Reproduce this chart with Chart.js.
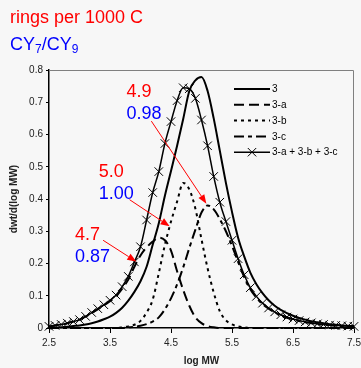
<!DOCTYPE html>
<html>
<head>
<meta charset="utf-8">
<script src="https://cdn.jsdelivr.net/npm/chart.js@4.4.0/dist/chart.umd.min.js"></script>
<style>
  html, body { margin: 0; padding: 0; background: #f7f7f7; }
  #wrap { position: relative; width: 361px; height: 368px; }
  .head { position: absolute; left: 10px; font-family: Arial, "Liberation Sans", sans-serif; font-size: 18px; line-height: 18px; white-space: nowrap; }
  #rings { top: 7.5px; color: #ff0000; }
  #cy { top: 35px; color: #0000ff; }
  #cy sub { font-size: 12px; vertical-align: -3px; line-height: 0; }
  canvas { position: absolute; left: 0; top: 0; }
</style>
</head>
<body>
<div id="wrap">
  <canvas id="gpc" width="361" height="368"></canvas>
  <div class="head" id="rings">rings per 1000 C</div>
  <div class="head" id="cy">CY<sub>7</sub>/CY<sub>9</sub></div>
</div>
<script>
// log MW grid shared by every curve
const logMW = [2.5, 2.6, 2.7, 2.8, 2.9, 3.0, 3.1, 3.2, 3.3, 3.4, 3.5, 3.6, 3.7, 3.8, 3.9,
  4.0, 4.1, 4.2, 4.3, 4.4, 4.5, 4.6, 4.7, 4.8, 4.9, 5.0, 5.1, 5.2, 5.3, 5.4, 5.5, 5.6, 5.7,
  5.8, 5.9, 6.0, 6.1, 6.2, 6.3, 6.4, 6.5, 6.6, 6.7, 6.8, 6.9, 7.0, 7.1, 7.2, 7.3, 7.4, 7.5];
const xTicks = [2.5, 3.5, 4.5, 5.5, 6.5, 7.5];

// measured distribution of sample 3
const s3 = [0.000, 0.001, 0.002, 0.004, 0.006, 0.008, 0.011, 0.015, 0.020, 0.027, 0.035, 0.047,
  0.063, 0.085, 0.112, 0.145, 0.190, 0.258, 0.325, 0.410, 0.487, 0.565, 0.648, 0.735, 0.768,
  0.778, 0.735, 0.650, 0.550, 0.450, 0.360, 0.280, 0.222, 0.172, 0.136, 0.108, 0.086, 0.069,
  0.056, 0.046, 0.038, 0.031, 0.026, 0.021, 0.018, 0.015, 0.012, 0.010, 0.008, 0.007, 0.006];
// fractions
const s3a = [0.005, 0.008, 0.011, 0.015, 0.020, 0.026, 0.035, 0.047, 0.058, 0.070, 0.083, 0.098,
  0.122, 0.150, 0.190, 0.225, 0.250, 0.268, 0.280, 0.272, 0.240, 0.176, 0.118, 0.069, 0.033,
  0.015, 0.006, 0.002, 0, 0, 0, 0, 0, 0, 0, 0, 0, 0, 0, 0, 0, 0, 0, 0, 0, 0, 0, 0, 0, 0, 0];
const s3b = [0, 0, 0, 0, 0, 0, 0, 0, 0, 0, 0, 0, 0.002, 0.005, 0.010, 0.022, 0.048, 0.088, 0.170,
  0.258, 0.330, 0.392, 0.450, 0.430, 0.370, 0.275, 0.185, 0.110, 0.052, 0.024, 0.011, 0.005,
  0.002, 0, 0, 0, 0, 0, 0, 0, 0, 0, 0, 0, 0, 0, 0, 0, 0, 0, 0];
const s3c = [0, 0, 0, 0, 0, 0, 0, 0, 0, 0, 0, 0, 0, 0.002, 0.004, 0.007, 0.012, 0.020, 0.033,
  0.058, 0.092, 0.135, 0.188, 0.248, 0.305, 0.358, 0.380, 0.368, 0.338, 0.300, 0.255, 0.205,
  0.158, 0.120, 0.094, 0.074, 0.060, 0.048, 0.039, 0.032, 0.027, 0.022, 0.018, 0.015, 0.012,
  0.010, 0.009, 0.007, 0.006, 0.005, 0.004];
// recombined fractions
const sSum = [0.005, 0.008, 0.011, 0.015, 0.020, 0.026, 0.036, 0.048, 0.060, 0.072, 0.086, 0.102,
  0.128, 0.160, 0.205, 0.252, 0.335, 0.420, 0.485, 0.572, 0.640, 0.705, 0.745, 0.742, 0.712,
  0.645, 0.565, 0.470, 0.390, 0.330, 0.272, 0.215, 0.165, 0.125, 0.098, 0.077, 0.062, 0.050,
  0.041, 0.034, 0.028, 0.023, 0.019, 0.016, 0.013, 0.011, 0.009, 0.008, 0.007, 0.006, 0.005];

const ringLabels = ['4.7', '5.0', '4.9'];
const cyLabels = ['0.87', '1.00', '0.98'];

const FONT = 'Arial, "Liberation Sans", sans-serif';
Chart.defaults.font.family = FONT;

function curve(label, values, extra) {
  return Object.assign({
    label: label,
    data: logMW.map((x, i) => ({ x: x, y: values[i] })),
    borderColor: '#000',
    backgroundColor: '#000',
    borderWidth: 2,
    pointRadius: 0,
    cubicInterpolationMode: 'monotone',
    fill: false,
    clip: false
  }, extra || {});
}

// gray top/right edge of the plot frame
const frame = {
  id: 'frame',
  beforeDatasetsDraw(chart) {
    const { ctx, chartArea: a } = chart;
    ctx.save();
    ctx.strokeStyle = '#808080';
    ctx.lineWidth = 1;
    ctx.beginPath();
    ctx.moveTo(a.left, a.top + 0.5);
    ctx.lineTo(a.right - 0.5, a.top + 0.5);
    ctx.lineTo(a.right - 0.5, a.bottom);
    ctx.stroke();
    ctx.restore();
  }
};

// legend with line samples, top right inside the plot
const lineKey = {
  id: 'lineKey',
  afterDatasetsDraw(chart) {
    const { ctx, chartArea: a } = chart;
    const x0 = a.right - 120, x1 = a.right - 84;
    ctx.save();
    ctx.font = '10px ' + FONT;
    ctx.textBaseline = 'middle';
    ctx.fillStyle = '#000';
    ctx.strokeStyle = '#000';
    chart.data.datasets.forEach((ds, i) => {
      const y = a.top + 19 + i * 15.8;
      ctx.lineWidth = ds.borderWidth;
      ctx.setLineDash(ds.borderDash || []);
      ctx.beginPath();
      ctx.moveTo(x0, y);
      ctx.lineTo(x1, y);
      ctx.stroke();
      if (ds.pointRadius) {
        const m = (x0 + x1) / 2, r = ds.pointRadius * 0.7;
        ctx.setLineDash([]);
        ctx.lineWidth = 1;
        ctx.beginPath();
        ctx.moveTo(m - r, y - r); ctx.lineTo(m + r, y + r);
        ctx.moveTo(m - r, y + r); ctx.lineTo(m + r, y - r);
        ctx.stroke();
      }
      ctx.fillText(ds.label, x1 + 2, y + 0.5);
    });
    ctx.restore();
  }
};

// ring / CY ratio notes with red arrows
const ringNotes = {
  id: 'ringNotes',
  afterDatasetsDraw(chart, args, opts) {
    const { ctx, scales: { x, y } } = chart;
    ctx.save();
    ctx.font = '18px ' + FONT;
    ctx.textBaseline = 'alphabetic';
    opts.notes.forEach((n, i) => {
      const lx = x.getPixelForValue(n.at[0]), ly = y.getPixelForValue(n.at[1]);
      ctx.fillStyle = '#ff0000';
      ctx.fillText(ringLabels[i], lx, ly);
      ctx.fillStyle = '#0000ff';
      ctx.fillText(cyLabels[i], lx, ly + 22);

      const ax = x.getPixelForValue(n.from[0]), ay = y.getPixelForValue(n.from[1]);
      const bx = x.getPixelForValue(n.to[0]), by = y.getPixelForValue(n.to[1]);
      const ang = Math.atan2(by - ay, bx - ax);
      const c = Math.cos(ang), s = Math.sin(ang), L = 9, W = 3.5;
      ctx.strokeStyle = '#ff0000';
      ctx.fillStyle = '#ff0000';
      ctx.lineWidth = 1;
      ctx.beginPath();
      ctx.moveTo(ax, ay);
      ctx.lineTo(bx - L * c, by - L * s);
      ctx.stroke();
      ctx.beginPath();
      ctx.moveTo(bx, by);
      ctx.lineTo(bx - L * c + W * s, by - L * s - W * c);
      ctx.lineTo(bx - L * c - W * s, by - L * s + W * c);
      ctx.closePath();
      ctx.fill();
    });
    ctx.restore();
  }
};

new Chart(document.getElementById('gpc'), {
  type: 'line',
  data: {
    datasets: [
      curve('3', s3, { borderWidth: 2 }),
      curve('3-a', s3a, { borderDash: [10, 5] }),
      curve('3-b', s3b, { borderDash: [3, 4] }),
      curve('3-c', s3c, { borderDash: [10, 4, 4, 4] }),
      curve('3-a + 3-b + 3-c', sSum, {
        borderWidth: 1.5,
        pointStyle: 'crossRot',
        pointRadius: 6,
        pointBorderWidth: 1,
        pointBorderColor: '#000'
      })
    ]
  },
  options: {
    responsive: false,
    animation: false,
    devicePixelRatio: 1,
    layout: { padding: { top: 70, right: 6, left: 0, bottom: 0 } },
    plugins: {
      legend: { display: false },
      tooltip: { enabled: false },
      ringNotes: {
        notes: [
          { at: [2.925, 0.274], from: [3.387, 0.272], to: [3.93, 0.206] },
          { at: [3.317, 0.4695], from: [3.82, 0.398], to: [4.477, 0.3155] },
          { at: [3.77, 0.715], from: [4.178, 0.6415], to: [5.08, 0.3856] }
        ]
      }
    },
    scales: {
      x: {
        type: 'linear',
        min: 2.5,
        max: 7.5,
        afterBuildTicks: s => { s.ticks = xTicks.map(v => ({ value: v })); },
        afterFit: s => { s.height = 40; s.paddingLeft = 0; s.paddingRight = 0; },
        border: { color: '#000', width: 1.5 },
        grid: { drawOnChartArea: false, tickLength: 5, color: '#000' },
        ticks: { padding: 4, color: '#222', font: { size: 10 }, maxRotation: 0, callback: v => v.toFixed(1) },
        title: { display: true, text: 'log MW', color: '#222', font: { size: 10, weight: 'bold' }, padding: { top: 0, bottom: 1 } }
      },
      y: {
        min: 0,
        max: 0.8,
        afterFit: s => { s.width = 49; s.paddingTop = 0; s.paddingBottom = 0; },
        border: { color: '#000', width: 1.5 },
        grid: { drawOnChartArea: false, tickLength: 3, color: '#000' },
        ticks: { stepSize: 0.1, padding: 3, color: '#222', font: { size: 10 } },
        title: { display: true, text: 'dwt/d(log MW)', color: '#222', font: { size: 10, weight: 'bold' }, padding: { top: 8, bottom: 0 } }
      }
    }
  },
  plugins: [frame, lineKey, ringNotes]
});
</script>
</body>
</html>
